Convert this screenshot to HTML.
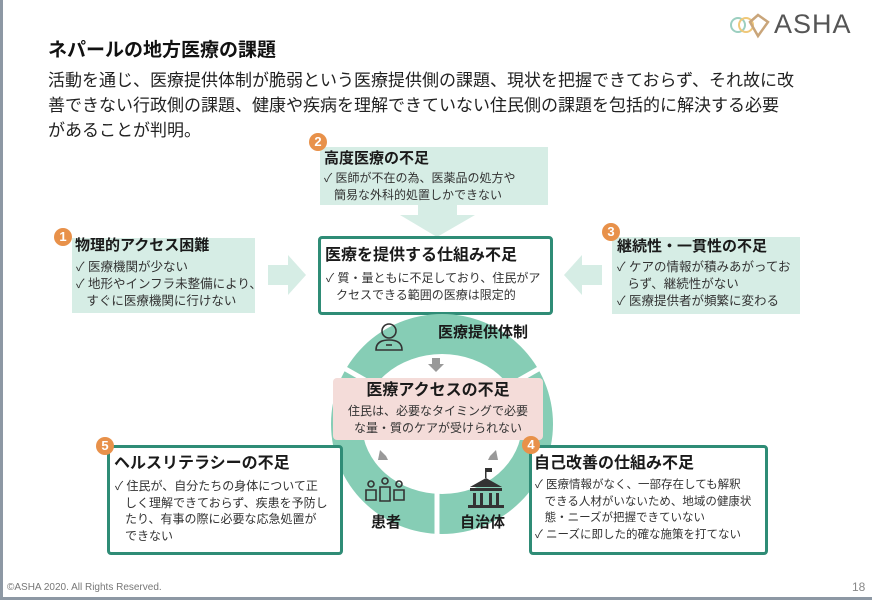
<!DOCTYPE html>
<html><head><meta charset="utf-8">
<style>
*{margin:0;padding:0;box-sizing:border-box}
body{width:872px;height:600px;background:#fff;position:relative;overflow:hidden;font-family:"Liberation Sans","Noto Sans CJK JP",sans-serif;color:#222}
.a{position:absolute}
.lb{background:#d6ede5}
.wb{background:#fff;border:3px solid #2f8c76;border-radius:4px}
.h{font-weight:bold;font-size:15px;line-height:20px;color:#1a1a1a;white-space:nowrap}
.t{font-size:12px;line-height:16.5px;color:#333;white-space:nowrap}
.bd{position:absolute;width:18px;height:18px;border-radius:50%;background:#e8914a;color:#fff;font-size:13px;font-weight:bold;text-align:center;line-height:18px}
</style></head><body>
<div class="a" style="left:0;top:0;width:3px;height:600px;background:#8d98a4"></div>
<div class="a" style="left:0;top:597px;width:872px;height:3px;background:#8d98a4"></div>

<div class="a" style="left:48px;top:35px;font-size:19px;font-weight:bold;color:#111">ネパールの地方医療の課題</div>
<div class="a" style="left:48px;top:68px;font-size:17px;line-height:25px;color:#222;white-space:nowrap">活動を通じ、医療提供体制が脆弱という医療提供側の課題、現状を把握できておらず、それ故に改<br>善できない行政側の課題、健康や疾病を理解できていない住民側の課題を包括的に解決する必要<br>があることが判明。</div>

<!-- logo -->
<svg class="a" style="left:728px;top:8px" width="45" height="34" viewBox="0 0 45 34">
<circle cx="10" cy="17" r="7" fill="none" stroke="#9ccfc0" stroke-width="2"/>
<circle cx="18" cy="17" r="7" fill="none" stroke="#f0c879" stroke-width="2"/>
<path d="M22 14 L30 7 L40 14 L30 28 Z" fill="none" stroke="#c9a57a" stroke-width="2.5"/>
</svg>
<div class="a" style="left:774px;top:9px;font-size:27px;color:#555;letter-spacing:1px">ASHA</div>

<!-- box 2 -->
<div class="a lb" style="left:320px;top:147px;width:228px;height:58px"></div>
<div class="a h" style="left:324px;top:149px">高度医療の不足</div>
<div class="a t" style="left:324px;top:170px">✓ 医師が不在の為、医薬品の処方や<br>&nbsp;&nbsp;&nbsp;簡易な外科的処置しかできない</div>
<div class="bd" style="left:309px;top:133px">2</div>
<svg class="a" style="left:400px;top:205px" width="75" height="32"><polygon points="18,0 57,0 57,10 75,10 37,32 0,10 18,10" fill="#d6ede5"/></svg>

<!-- box 1 -->
<div class="a lb" style="left:72px;top:238px;width:183px;height:75px"></div>
<div class="a h" style="left:75px;top:236px">物理的アクセス困難</div>
<div class="a t" style="left:76px;top:259px;font-size:12.5px;line-height:17px">✓ 医療機関が少ない<br>✓ 地形やインフラ未整備により、<br>&nbsp;&nbsp;&nbsp;すぐに医療機関に行けない</div>
<div class="bd" style="left:54px;top:228px">1</div>
<svg class="a" style="left:268px;top:255px" width="38" height="40"><polygon points="0,10 20,10 20,0 38,20 20,40 20,30 0,30" fill="#d6ede5"/></svg>

<!-- center box -->
<div class="a wb" style="left:318px;top:236px;width:235px;height:79px"></div>
<div class="a h" style="left:325px;top:246px;font-size:16px">医療を提供する仕組み不足</div>
<div class="a t" style="left:326px;top:270px">✓ 質・量ともに不足しており、住民がア<br>&nbsp;&nbsp;&nbsp;クセスできる範囲の医療は限定的</div>

<!-- box 3 -->
<div class="a lb" style="left:612px;top:237px;width:188px;height:77px"></div>
<div class="a h" style="left:617px;top:237px">継続性・一貫性の不足</div>
<div class="a t" style="left:617px;top:259px;font-size:12.5px;line-height:17px">✓ ケアの情報が積みあがってお<br>&nbsp;&nbsp;&nbsp;らず、継続性がない<br>✓ 医療提供者が頻繁に変わる</div>
<div class="bd" style="left:602px;top:223px">3</div>
<svg class="a" style="left:564px;top:255px" width="38" height="40"><polygon points="38,10 18,10 18,0 0,20 18,40 18,30 38,30" fill="#d6ede5"/></svg>

<!-- ring -->
<svg class="a" style="left:0;top:0" width="872" height="600">
<ellipse cx="442" cy="424" rx="111" ry="110" fill="#86cdb5"/>
<ellipse cx="442" cy="424" rx="80" ry="70" fill="#fff"/>
<line x1="335" y1="363" x2="372" y2="384" stroke="#fff" stroke-width="5"/>
<line x1="549" y1="363" x2="512" y2="384" stroke="#fff" stroke-width="5"/>
<line x1="437" y1="490" x2="437" y2="540" stroke="#fff" stroke-width="5"/>
<polygon points="432,358 440,358 440,364 444,364 436,372 428,364 432,364" fill="#999"/>
<polygon points="386,456 380,450 378,460 388,460" fill="#999"/>
<polygon points="490,456 496,450 498,460 488,460" fill="#999"/>
<g fill="none" stroke="#333" stroke-width="1.6">
<circle cx="389" cy="331" r="7"/><path d="M376 350 Q376 340 389 340 Q402 340 402 350 Z"/><line x1="386" y1="345" x2="392" y2="345"/>
</g>
<g fill="none" stroke="#333" stroke-width="1.6">
<circle cx="371" cy="484" r="3"/><circle cx="385" cy="481" r="3"/><circle cx="399" cy="484" r="3"/>
<path d="M366 490 h10 v10 h-10z M380 487 h10 v14 h-10z M394 490 h10 v10 h-10z"/>
</g>
<g fill="#333">
<polygon points="470,487 486,478 502,487"/>
<rect x="470" y="488" width="32" height="3"/>
<rect x="473" y="493" width="3" height="12"/><rect x="480" y="493" width="3" height="12"/><rect x="489" y="493" width="3" height="12"/><rect x="496" y="493" width="3" height="12"/>
<rect x="468" y="505" width="36" height="3"/>
<rect x="485" y="468" width="1.5" height="10"/><rect x="486" y="468" width="6" height="4" />
</g>
</svg>
<div class="a h" style="left:438px;top:323px;font-size:15px">医療提供体制</div>
<div class="a h" style="left:371px;top:513px;font-size:15px">患者</div>
<div class="a h" style="left:460px;top:513px;font-size:15px">自治体</div>

<!-- pink -->
<div class="a" style="left:333px;top:378px;width:210px;height:62px;background:#f4dcd9;border-radius:4px"></div>
<div class="a h" style="left:333px;width:210px;text-align:center;top:381px;font-size:16px">医療アクセスの不足</div>
<div class="a t" style="left:333px;width:210px;text-align:center;top:403px;font-size:12px">住民は、必要なタイミングで必要<br>な量・質のケアが受けられない</div>

<!-- box 5 -->
<div class="a wb" style="left:107px;top:445px;width:236px;height:110px"></div>
<div class="a h" style="left:114px;top:454px;font-size:16px">ヘルスリテラシーの不足</div>
<div class="a t" style="left:115px;top:478px;font-size:12px">✓ 住民が、自分たちの身体について正<br>&nbsp;&nbsp;&nbsp;しく理解できておらず、疾患を予防し<br>&nbsp;&nbsp;&nbsp;たり、有事の際に必要な応急処置が<br>&nbsp;&nbsp;&nbsp;できない</div>
<div class="bd" style="left:96px;top:437px">5</div>

<!-- box 4 -->
<div class="a wb" style="left:529px;top:445px;width:239px;height:110px"></div>
<div class="a h" style="left:534px;top:454px;font-size:16px">自己改善の仕組み不足</div>
<div class="a t" style="left:535px;top:477px;font-size:11.5px">✓ 医療情報がなく、一部存在しても解釈<br>&nbsp;&nbsp;&nbsp;できる人材がいないため、地域の健康状<br>&nbsp;&nbsp;&nbsp;態・ニーズが把握できていない<br>✓ ニーズに即した的確な施策を打てない</div>
<div class="bd" style="left:522px;top:436px">4</div>

<div class="a" style="left:7px;top:582px;font-size:10px;color:#777">©ASHA 2020. All Rights Reserved.</div>
<div class="a" style="left:852px;top:580px;font-size:12px;color:#888">18</div>
</body></html>
